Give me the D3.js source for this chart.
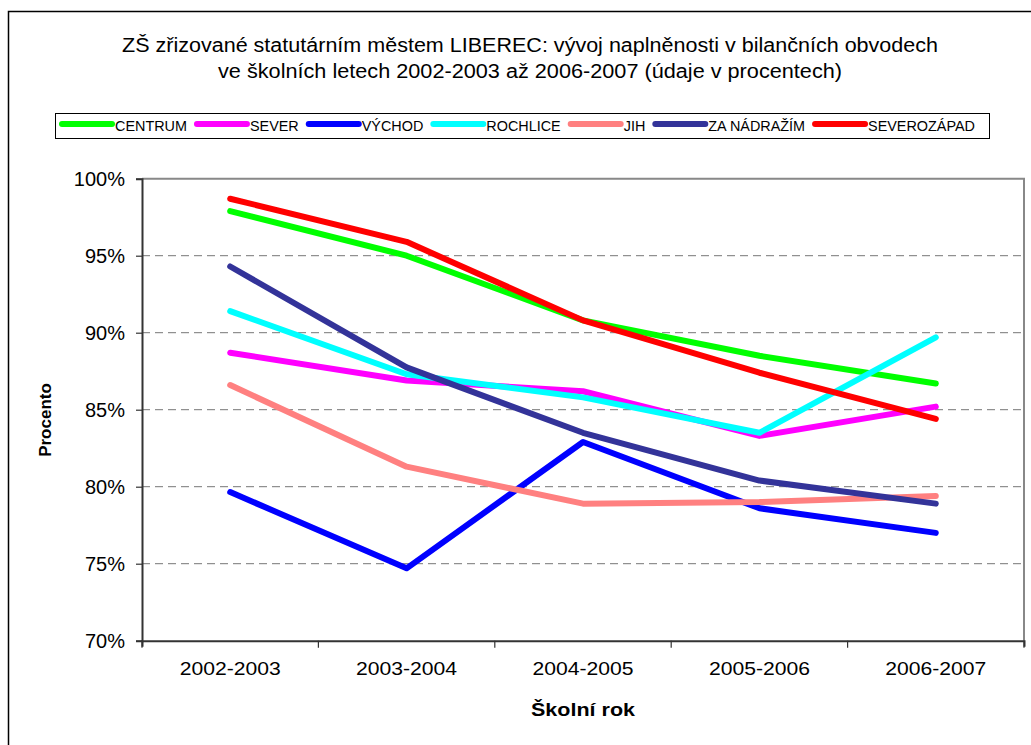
<!DOCTYPE html>
<html><head><meta charset="utf-8">
<script src="https://cdn.jsdelivr.net/npm/d3@7"></script>
<style>body{margin:0;background:#fff;} text{font-family:Arial,"Liberation Sans",sans-serif;}</style>
</head><body>
<svg id="c" width="1031" height="745"></svg>
<script>
const categories = ["2002-2003","2003-2004","2004-2005","2005-2006","2006-2007"];
const seriesNames = ["CENTRUM","SEVER","VÝCHOD","ROCHLICE","JIH","ZA NÁDRAŽÍM","SEVEROZÁPAD"];
const seriesColors = ["#00FF00","#FF00FF","#0000FF","#00FFFF","#FF8080","#333399","#FF0000"];
const centrum     = [97.9, 95.0, 90.8, 88.5, 86.7];
const sever       = [88.7, 86.9, 86.2, 83.3, 85.2];
const vychod      = [79.65, 74.7, 82.9, 78.6, 77.0];
const rochlice    = [91.4, 87.3, 85.8, 83.5, 89.7];
const jih         = [86.6, 81.3, 78.9, 79.0, 79.4];
const zaNadrazim  = [94.3, 87.75, 83.5, 80.4, 78.9];
const severozapad = [98.7, 95.9, 90.8, 87.4, 84.4];
const yTicks = [70, 75, 80, 85, 90, 95, 100];
const titleLines = ["ZŠ zřizované statutárním městem LIBEREC: vývoj naplněnosti v bilančních obvodech",
                    "ve školních letech 2002-2003 až 2006-2007 (údaje v procentech)"];
const yLabel = "Procento", xLabel = "Školní rok";

const seriesValues = [centrum, sever, vychod, rochlice, jih, zaNadrazim, severozapad];
const svg = d3.select("#c");

// outer chart border
svg.append("rect").attr("x",8.5).attr("y",11.5).attr("width",1040).attr("height",760)
  .attr("fill","none").attr("stroke","#000").attr("stroke-width",1.5);

// title
svg.selectAll("text.title").data(titleLines).join("text")
  .attr("x",530).attr("y",(d,i)=>52+i*26).attr("text-anchor","middle")
  .attr("font-size",20).attr("textLength",(d,i)=>i===0?816:624).attr("lengthAdjust","spacingAndGlyphs")
  .attr("fill","#000").text(d=>d);

const L=142, R=1024, T=178.7, B=640.7;
const x = d3.scaleBand().domain(categories).range([L,R]);
const y = d3.scaleLinear().domain([70,100]).range([B,T]);

// gridlines
svg.append("g").selectAll("line").data(yTicks.filter(v=>v>70&&v<100)).join("line")
  .attr("x1",L).attr("x2",R).attr("y1",d=>y(d)).attr("y2",d=>y(d))
  .attr("stroke","#777").attr("stroke-width",1).attr("stroke-dasharray","8,5");
// plot area top/right border
svg.append("path").attr("d",`M${L},${T}H${R}V${B}`).attr("fill","none").attr("stroke","#888").attr("stroke-width",2);

// axes
const yAxis = svg.append("g").attr("transform",`translate(${L},0)`)
  .call(d3.axisLeft(y).tickValues(yTicks).tickFormat(d=>d+"%").tickSize(6).tickPadding(11));
const xAxis = svg.append("g").attr("transform",`translate(0,${B})`)
  .call(d3.axisBottom(x).tickSize(6).tickPadding(15));
xAxis.selectAll(".tick line").remove();
svg.append("g").selectAll("line").data(categories.map(c=>x(c)).concat([R])).join("line")
  .attr("x1",d=>d).attr("x2",d=>d).attr("y1",B).attr("y2",B+7).attr("stroke","#333").attr("stroke-width",1.2);
[yAxis,xAxis].forEach(a=>{
  a.select(".domain").attr("stroke","#333").attr("stroke-width",2);
  a.selectAll(".tick line").attr("stroke","#333").attr("stroke-width",1.2);
  a.selectAll("text").attr("font-family","Arial, Liberation Sans, sans-serif").attr("fill","#000");
});
yAxis.selectAll("text").attr("font-size",20).attr("dy","0.36em");
xAxis.selectAll("text").attr("font-size",19).attr("textLength",101).attr("lengthAdjust","spacingAndGlyphs");

// axis titles
svg.append("text").attr("transform",`translate(51,420) rotate(-90)`).attr("text-anchor","middle")
  .attr("font-size",17).attr("font-weight","bold").text(yLabel);
svg.append("text").attr("x",583).attr("y",716).attr("text-anchor","middle")
  .attr("font-size",19).attr("font-weight","bold").attr("textLength",104).attr("lengthAdjust","spacingAndGlyphs").text(xLabel);

// lines
const line = d3.line().x((d,i)=>x(categories[i])+x.bandwidth()/2).y(d=>y(d));
svg.append("g").selectAll("path").data(seriesValues).join("path")
  .attr("d",line).attr("fill","none").attr("stroke",(d,i)=>seriesColors[i])
  .attr("stroke-width",6).attr("stroke-linecap","round").attr("stroke-linejoin","round");

// legend
const lg = svg.append("g");
lg.append("rect").attr("x",55.5).attr("y",113.5).attr("width",934).attr("height",25)
  .attr("fill","#fff").attr("stroke","#000").attr("stroke-width",1);
let cx = 62;
seriesNames.forEach((n,i)=>{
  lg.append("line").attr("x1",cx).attr("x2",cx+50).attr("y1",124).attr("y2",124)
    .attr("stroke",seriesColors[i]).attr("stroke-width",6).attr("stroke-linecap","round");
  const t = lg.append("text").attr("x",cx+53).attr("y",131).attr("font-size",14.4).text(n);
  cx += 53 + t.node().getComputedTextLength() + 10;
});
</script>
</body></html>
